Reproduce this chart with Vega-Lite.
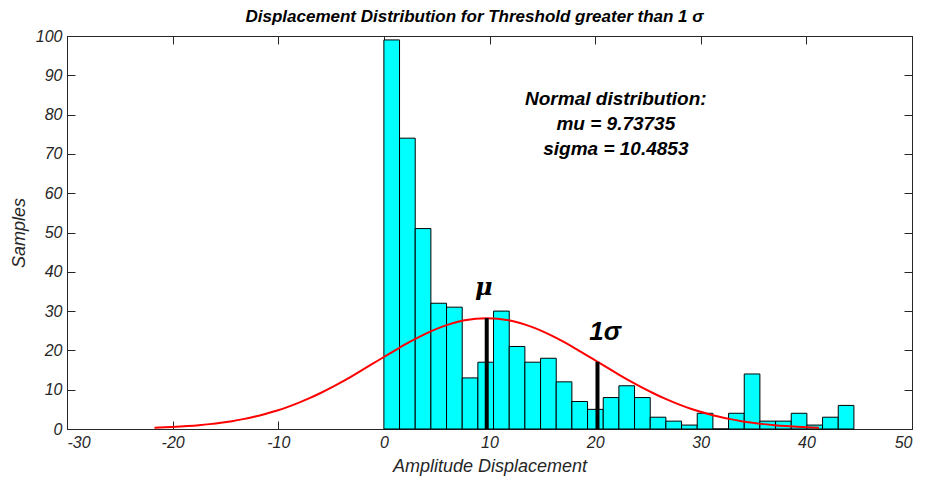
{
  "$schema": "https://vega.github.io/schema/vega-lite/v6.json",
  "width": 845,
  "height": 393,
  "autosize": {"type": "none"},
  "padding": {"left": 67, "top": 36, "right": 14, "bottom": 51},
  "background": "white",
  "title": {
    "text": "Displacement Distribution for Threshold greater than 1 σ",
    "font": "Liberation Sans",
    "fontSize": 17,
    "fontStyle": "italic",
    "fontWeight": "bold",
    "color": "#000000",
    "offset": 2,
    "dx": -15
  },
  "config": {
    "view": {"stroke": "#262626", "strokeWidth": 1},
    "axis": {
      "labelFont": "Liberation Sans",
      "labelFontStyle": "italic",
      "labelFontSize": 16,
      "labelColor": "#262626",
      "labelExpr": "replace(datum.label, '−', '-')",
      "titleFont": "Liberation Sans",
      "titleFontStyle": "italic",
      "titleFontWeight": "normal",
      "titleFontSize": 18,
      "titleColor": "#262626",
      "domainColor": "#262626",
      "tickColor": "#262626",
      "tickSize": -8,
      "grid": false
    }
  },
  "datasets": {
    "bins": [
      {"x0": 0.000, "x1": 1.483, "count": 99},
      {"x0": 1.483, "x1": 2.967, "count": 74},
      {"x0": 2.967, "x1": 4.450, "count": 51},
      {"x0": 4.450, "x1": 5.933, "count": 32},
      {"x0": 5.933, "x1": 7.417, "count": 31},
      {"x0": 7.417, "x1": 8.900, "count": 13},
      {"x0": 8.900, "x1": 10.383, "count": 17},
      {"x0": 10.383, "x1": 11.867, "count": 30},
      {"x0": 11.867, "x1": 13.350, "count": 21},
      {"x0": 13.350, "x1": 14.833, "count": 17},
      {"x0": 14.833, "x1": 16.317, "count": 18},
      {"x0": 16.317, "x1": 17.800, "count": 12},
      {"x0": 17.800, "x1": 19.283, "count": 7},
      {"x0": 19.283, "x1": 20.767, "count": 5},
      {"x0": 20.767, "x1": 22.250, "count": 8},
      {"x0": 22.250, "x1": 23.733, "count": 11},
      {"x0": 23.733, "x1": 25.217, "count": 8},
      {"x0": 25.217, "x1": 26.700, "count": 3},
      {"x0": 26.700, "x1": 28.183, "count": 2},
      {"x0": 28.183, "x1": 29.667, "count": 1},
      {"x0": 29.667, "x1": 31.150, "count": 4},
      {"x0": 31.150, "x1": 32.633, "count": 0},
      {"x0": 32.633, "x1": 34.117, "count": 4},
      {"x0": 34.117, "x1": 35.600, "count": 14},
      {"x0": 35.600, "x1": 37.083, "count": 2},
      {"x0": 37.083, "x1": 38.567, "count": 2},
      {"x0": 38.567, "x1": 40.050, "count": 4},
      {"x0": 40.050, "x1": 41.533, "count": 1},
      {"x0": 41.533, "x1": 43.017, "count": 3},
      {"x0": 43.017, "x1": 44.500, "count": 6}
    ],
    "curve": [
      {"x": -21.72, "y": 0.31}, {"x": -20.67, "y": 0.42}, {"x": -19.62, "y": 0.56},
      {"x": -18.57, "y": 0.74}, {"x": -17.52, "y": 0.96}, {"x": -16.48, "y": 1.24},
      {"x": -15.43, "y": 1.58}, {"x": -14.38, "y": 2.00}, {"x": -13.33, "y": 2.51},
      {"x": -12.28, "y": 3.11}, {"x": -11.23, "y": 3.82}, {"x": -10.18, "y": 4.64},
      {"x": -9.14, "y": 5.58}, {"x": -8.09, "y": 6.65}, {"x": -7.04, "y": 7.84},
      {"x": -5.99, "y": 9.16}, {"x": -4.94, "y": 10.59}, {"x": -3.89, "y": 12.12},
      {"x": -2.85, "y": 13.73}, {"x": -1.80, "y": 15.40}, {"x": -0.75, "y": 17.11},
      {"x": 0.30, "y": 18.82}, {"x": 1.35, "y": 20.48}, {"x": 2.40, "y": 22.08},
      {"x": 3.45, "y": 23.56}, {"x": 4.49, "y": 24.90}, {"x": 5.54, "y": 26.04},
      {"x": 6.59, "y": 26.97}, {"x": 7.64, "y": 27.65}, {"x": 8.69, "y": 28.07},
      {"x": 9.74, "y": 28.21}, {"x": 10.79, "y": 28.07}, {"x": 11.83, "y": 27.65},
      {"x": 12.88, "y": 26.97}, {"x": 13.93, "y": 26.04}, {"x": 14.98, "y": 24.90},
      {"x": 16.03, "y": 23.56}, {"x": 17.08, "y": 22.08}, {"x": 18.13, "y": 20.48},
      {"x": 19.17, "y": 18.82}, {"x": 20.22, "y": 17.11}, {"x": 21.27, "y": 15.40},
      {"x": 22.32, "y": 13.73}, {"x": 23.37, "y": 12.12}, {"x": 24.42, "y": 10.59},
      {"x": 25.47, "y": 9.16}, {"x": 26.51, "y": 7.84}, {"x": 27.56, "y": 6.65},
      {"x": 28.61, "y": 5.58}, {"x": 29.66, "y": 4.64}, {"x": 30.71, "y": 3.82},
      {"x": 31.76, "y": 3.11}, {"x": 32.81, "y": 2.51}, {"x": 33.85, "y": 2.00},
      {"x": 34.90, "y": 1.58}, {"x": 35.95, "y": 1.24}, {"x": 37.00, "y": 0.96},
      {"x": 38.05, "y": 0.74}, {"x": 39.10, "y": 0.56}, {"x": 40.14, "y": 0.42},
      {"x": 41.19, "y": 0.31}
    ],
    "marks": [
      {"x": 9.737, "y": 28.21},
      {"x": 20.223, "y": 17.11}
    ],
    "box": [
      {"x": 21.96, "y": 83.9, "text": "Normal distribution:"},
      {"x": 21.96, "y": 77.6, "text": "mu = 9.73735"},
      {"x": 21.96, "y": 71.3, "text": "sigma = 10.4853"}
    ],
    "greek": [
      {"x": 9.45, "y": 36.0, "text": "μ"}
    ],
    "sig": [
      {"x": 20.95, "y": 24.8, "text": "1σ"}
    ]
  },
  "resolve": {"axis": {"x": "independent", "y": "independent"}},
  "layer": [
    {
      "data": {"name": "bins"},
      "mark": {"type": "bar", "fill": "#00FFFF", "stroke": "#000000", "strokeWidth": 1, "opacity": 1},
      "encoding": {
        "x": {
          "field": "x0", "type": "quantitative",
          "scale": {"domain": [-30, 50], "nice": false, "zero": false},
          "axis": {"orient": "bottom", "values": [-30, -20, -10, 0, 10, 20, 30, 40, 50], "title": "Amplitude Displacement", "labelPadding": 13, "titlePadding": 7}
        },
        "x2": {"field": "x1"},
        "y": {
          "field": "count", "type": "quantitative",
          "scale": {"domain": [0, 100], "nice": false},
          "axis": {"orient": "left", "values": [0, 10, 20, 30, 40, 50, 60, 70, 80, 90, 100], "title": "Samples", "labelPadding": 13, "titlePadding": 7}
        },
        "y2": {"datum": 0}
      }
    },
    {
      "data": {"name": "curve"},
      "mark": {"type": "line", "color": "#FF0000", "strokeWidth": 2, "interpolate": "monotone"},
      "encoding": {
        "x": {"field": "x", "type": "quantitative", "axis": {"orient": "top", "values": [-30, -20, -10, 0, 10, 20, 30, 40, 50], "labels": false, "title": null, "domain": false}},
        "y": {"field": "y", "type": "quantitative", "axis": {"orient": "right", "values": [0, 10, 20, 30, 40, 50, 60, 70, 80, 90, 100], "labels": false, "title": null, "domain": false}}
      }
    },
    {
      "data": {"name": "marks"},
      "mark": {"type": "rule", "color": "#000000", "strokeWidth": 4},
      "encoding": {
        "x": {"field": "x", "type": "quantitative", "axis": null},
        "y": {"field": "y", "type": "quantitative", "axis": null},
        "y2": {"datum": 0}
      }
    },
    {
      "data": {"name": "box"},
      "mark": {"type": "text", "font": "Liberation Sans", "fontSize": 19, "fontStyle": "italic", "fontWeight": "bold", "align": "center", "baseline": "middle", "color": "#000000"},
      "encoding": {
        "x": {"field": "x", "type": "quantitative", "axis": null},
        "y": {"field": "y", "type": "quantitative", "axis": null},
        "text": {"field": "text"}
      }
    },
    {
      "data": {"name": "greek"},
      "mark": {"type": "text", "font": "DejaVu Serif", "fontSize": 24, "fontStyle": "italic", "fontWeight": "bold", "align": "center", "baseline": "middle", "color": "#000000"},
      "encoding": {
        "x": {"field": "x", "type": "quantitative", "axis": null},
        "y": {"field": "y", "type": "quantitative", "axis": null},
        "text": {"field": "text"}
      }
    },
    {
      "data": {"name": "sig"},
      "mark": {"type": "text", "font": "Liberation Sans", "fontSize": 26, "fontStyle": "italic", "fontWeight": "bold", "align": "center", "baseline": "middle", "color": "#000000"},
      "encoding": {
        "x": {"field": "x", "type": "quantitative", "axis": null},
        "y": {"field": "y", "type": "quantitative", "axis": null},
        "text": {"field": "text"}
      }
    }
  ]
}
